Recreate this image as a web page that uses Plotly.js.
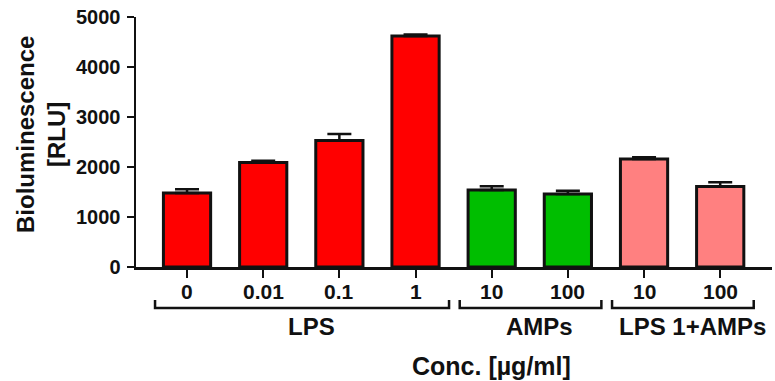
<!DOCTYPE html>
<html>
<head>
<meta charset="utf-8">
<script src="https://cdn.plot.ly/plotly-3.0.1.min.js"></script>
<style>html,body{margin:0;padding:0;background:#fff;}#chart{width:775px;height:381px;}</style>
</head>
<body>
<div id="chart"></div>
<script>
// Data
const tickLabels = ["0", "0.01", "0.1", "1", "10", "100", "10", "100"];
const values = [1480, 2090, 2530, 4620, 1540, 1460, 2160, 1610];
const errors = [75, 35, 130, 30, 75, 65, 35, 85];
const barColors = ["#FF0000", "#FF0000", "#FF0000", "#FF0000", "#00BE00", "#00BE00", "#FF8080", "#FF8080"];
const groupNames = ["LPS", "AMPs", "LPS 1+AMPs"];
const groupStart = [0, 4, 6];
const groupEnd = [3, 5, 7];
const yTitle = "Bioluminescence<br>[RLU]";
const xTitle = "Conc. [µg/ml]";

const FONT = "Liberation Sans, Arial, Helvetica, sans-serif";
const idx = tickLabels.map((_, i) => i);

const trace = {
  type: "bar",
  x: idx,
  y: values,
  width: 0.62,
  marker: {color: barColors, line: {color: "#111", width: 3}},
  error_y: {type: "data", symmetric: false, array: errors, arrayminus: errors.map(() => 0),
            color: "#111", thickness: 2.5, width: 12},
  hoverinfo: "y",
  showlegend: false
};

const shapes = [];
const annotations = [];
// category tick labels (placed just under the tick marks)
idx.forEach(i => annotations.push({text: tickLabels[i], xref: "x", yref: "paper",
  x: i, y: -0.096, xanchor: "center", yanchor: "middle", showarrow: false,
  font: {family: FONT, size: 21, color: "#111", weight: "bold"}}));
for (let g = 0; g < groupNames.length; g++) {
  const x0 = groupStart[g] - 0.42, x1 = groupEnd[g] + 0.44;
  shapes.push({type: "path", xref: "x", yref: "paper",
    path: `M ${x0},-0.132 L ${x0},-0.164 L ${x1},-0.164 L ${x1},-0.132`,
    line: {color: "#111", width: 2.5}});
  annotations.push({text: groupNames[g], xref: "x", yref: "paper",
    x: (groupStart[g] + groupEnd[g]) / 2 + 0.13, y: -0.238,
    xanchor: "center", yanchor: "middle", showarrow: false,
    font: {family: FONT, size: 24, color: "#111", weight: "bold"}});
}
annotations.push({text: xTitle, xref: "paper", yref: "paper",
  x: (491 - 136) / 636, y: (267 - 366) / 250, xanchor: "center", yanchor: "middle",
  showarrow: false, font: {family: FONT, size: 25, color: "#111", weight: "bold"}});
annotations.push({text: yTitle, xref: "paper", yref: "paper", textangle: -90,
  x: (41 - 136) / 636, y: (267 - 135) / 250, xanchor: "center", yanchor: "middle",
  showarrow: false, font: {family: FONT, size: 24, color: "#111", weight: "bold"}});

const layout = {
  width: 775, height: 381,
  margin: {l: 136, r: 3, t: 17, b: 114, pad: 0},
  paper_bgcolor: "#fff", plot_bgcolor: "#fff",
  font: {family: FONT, color: "#111"},
  xaxis: {range: [-0.67, 7.68], tickmode: "array", tickvals: idx, ticktext: tickLabels,
    showticklabels: false,
    showgrid: false, zeroline: false, showline: true, linecolor: "#111", linewidth: 2.5,
    ticks: "outside", ticklen: 8, tickwidth: 2, tickcolor: "#111", fixedrange: true},
  yaxis: {range: [0, 5000], dtick: 1000, tick0: 0, showgrid: false, zeroline: false,
    showline: true, linecolor: "#111", linewidth: 2.5,
    ticks: "outside", ticklen: 7, tickwidth: 2, tickcolor: "#111", ticklabelstandoff: 2,
    tickfont: {family: FONT, size: 20, color: "#111", weight: "bold"}, fixedrange: true},
  shapes: shapes,
  annotations: annotations,
  bargap: 0.3
};

Plotly.newPlot("chart", [trace], layout, {displayModeBar: false, staticPlot: true});
</script>
</body>
</html>
